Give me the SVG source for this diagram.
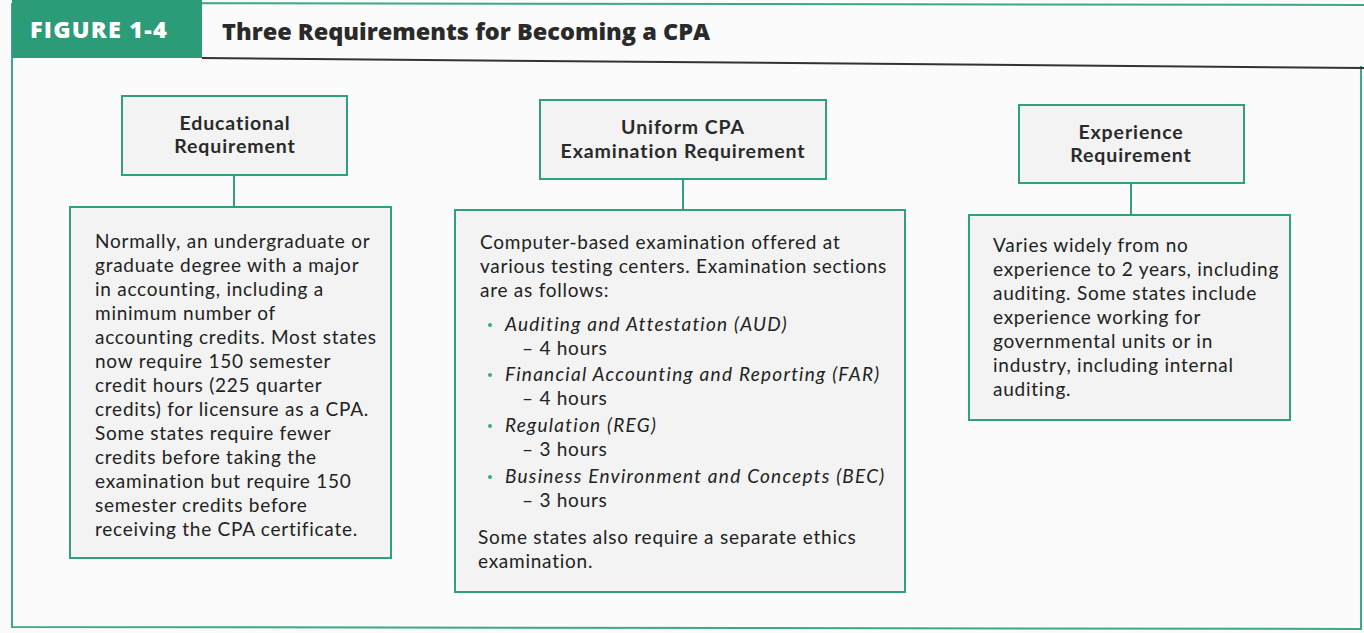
<svg xmlns="http://www.w3.org/2000/svg" width="1364" height="633" viewBox="0 0 1364 633">
  <style>
    .frame { fill: none; stroke: #3aa98a; stroke-width: 2; }
    .box { fill: #f2f3f2; stroke: #2f9f7e; stroke-width: 2; }
    .link { stroke: #2f9f7e; stroke-width: 2; fill: none; }
    .head { font-family: Lato, "Open Sans", sans-serif; font-weight: 700; font-size: 19.5px; fill: #2a2a2a; text-anchor: middle; letter-spacing: 0.9px; }
    .body { font-family: Lato, "Open Sans", sans-serif; font-size: 19px; fill: #222; letter-spacing: 0.75px; }
    .ital { font-style: italic; letter-spacing: 1.25px; }
    .dot { fill: #3aa98a; }
  </style>

  <!-- page background -->
  <rect x="0" y="0" width="1364" height="633" fill="#fbfbfb"/>

  <!-- figure frame and title band -->
  <g id="frame">
    <path class="frame" d="M12 3 L1364 5 M12 3 L12 627 L1362 629 M1361 66 L1361 629"/>
    <rect x="12" y="0" width="190" height="58" fill="#2c9b78"/>
    <line x1="202" y1="58" x2="1364" y2="68" stroke="#333" stroke-width="2"/>
    <text x="30" y="38" font-family="Open Sans, Noto Sans, sans-serif" font-weight="800" font-size="23.5px" letter-spacing="1.2" fill="#ffffff">FIGURE 1-4</text>
    <text x="222" y="40" font-family="Open Sans, Noto Sans, sans-serif" font-weight="800" font-size="23.5px" fill="#2a2a2a">Three Requirements for Becoming a CPA</text>
  </g>

  <!-- connectors between heading boxes and detail boxes -->
  <g id="connectors">
    <line class="link" x1="234" y1="175" x2="234" y2="207"/>
    <line class="link" x1="683" y1="179" x2="683" y2="210"/>
    <line class="link" x1="1131" y1="183" x2="1131" y2="215"/>
  </g>

  <!-- Educational requirement -->
  <g id="edu-head">
    <rect class="box" x="122" y="96" width="225" height="79"/>
    <text class="head" x="235" y="130">Educational<tspan x="235" y="153">Requirement</tspan></text>
  </g>
  <g id="edu-body">
    <rect class="box" x="70" y="207" width="321" height="351"/>
    <text class="body" x="95" y="248">Normally, an undergraduate or<tspan x="95" y="272">graduate degree with a major</tspan><tspan x="95" y="296">in accounting, including a</tspan><tspan x="95" y="320">minimum number of</tspan><tspan x="95" y="344">accounting credits. Most states</tspan><tspan x="95" y="368">now require 150 semester</tspan><tspan x="95" y="392">credit hours (225 quarter</tspan><tspan x="95" y="416">credits) for licensure as a CPA.</tspan><tspan x="95" y="440">Some states require fewer</tspan><tspan x="95" y="464">credits before taking the</tspan><tspan x="95" y="488">examination but require 150</tspan><tspan x="95" y="512">semester credits before</tspan><tspan x="95" y="536">receiving the CPA certificate.</tspan></text>
  </g>

  <!-- Uniform CPA examination requirement -->
  <g id="exam-head">
    <rect class="box" x="540" y="100" width="286" height="79"/>
    <text class="head" x="683" y="134">Uniform CPA<tspan x="683" y="158">Examination Requirement</tspan></text>
  </g>
  <g id="exam-body">
    <rect class="box" x="455" y="210" width="450" height="382"/>
    <circle class="dot" cx="490" cy="325" r="2"/>
    <circle class="dot" cx="490" cy="375" r="2"/>
    <circle class="dot" cx="490" cy="426" r="2"/>
    <circle class="dot" cx="490" cy="477" r="2"/>
    <text class="body" x="480" y="249">Computer-based examination offered at<tspan x="480" y="273">various testing centers. Examination sections</tspan><tspan x="480" y="297">are as follows:</tspan><tspan class="ital" x="505" y="331">Auditing and Attestation (AUD)</tspan><tspan x="522" y="355">– 4 hours</tspan><tspan class="ital" x="505" y="381">Financial Accounting and Reporting (FAR)</tspan><tspan x="522" y="405">– 4 hours</tspan><tspan class="ital" x="505" y="432">Regulation (REG)</tspan><tspan x="522" y="456">– 3 hours</tspan><tspan class="ital" x="505" y="483">Business Environment and Concepts (BEC)</tspan><tspan x="522" y="507">– 3 hours</tspan><tspan x="478" y="544">Some states also require a separate ethics</tspan><tspan x="478" y="568">examination.</tspan></text>
  </g>

  <!-- Experience requirement -->
  <g id="exp-head">
    <rect class="box" x="1019" y="105" width="225" height="78"/>
    <text class="head" x="1131" y="139">Experience<tspan x="1131" y="162">Requirement</tspan></text>
  </g>
  <g id="exp-body">
    <rect class="box" x="969" y="215" width="321" height="205"/>
    <text class="body" x="993" y="252">Varies widely from no<tspan x="993" y="276">experience to 2 years, including</tspan><tspan x="993" y="300">auditing. Some states include</tspan><tspan x="993" y="324">experience working for</tspan><tspan x="993" y="348">governmental units or in</tspan><tspan x="993" y="372">industry, including internal</tspan><tspan x="993" y="396">auditing.</tspan></text>
  </g>
</svg>
